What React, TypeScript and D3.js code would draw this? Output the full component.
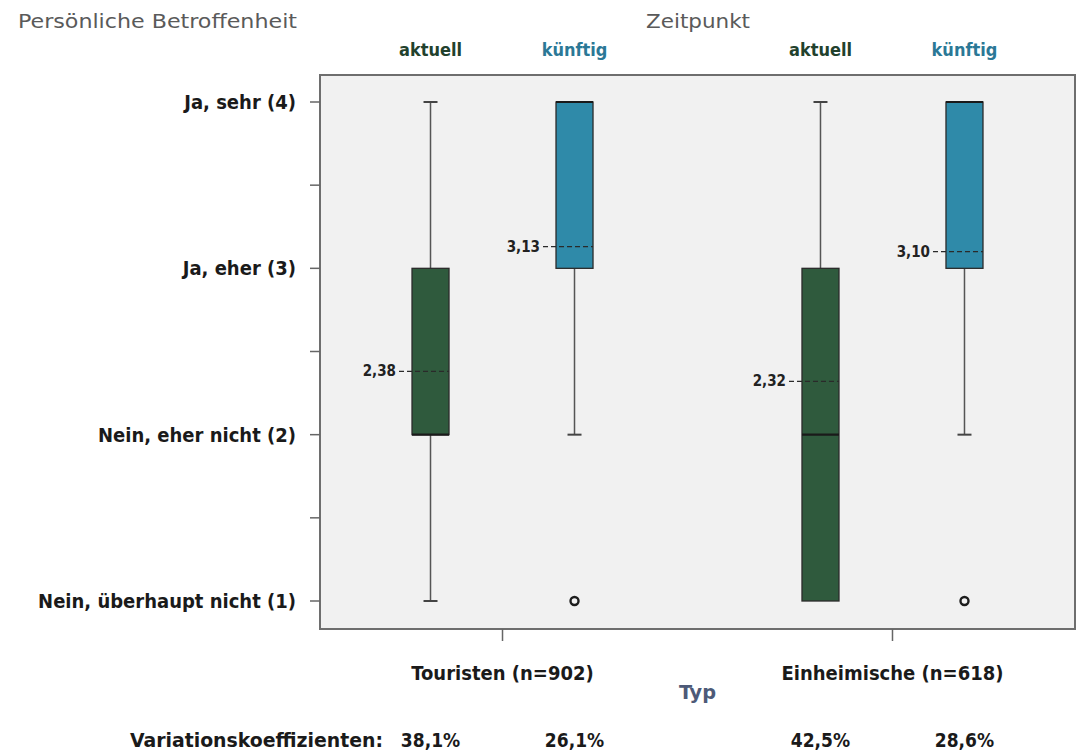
import React from 'react';
import * as d3 from 'd3';

// Gruppen (Typ) und Zeitpunkte
const groups = ['Touristen (n=902)', 'Einheimische (n=618)'];
const times = ['aktuell', 'künftig'];

// Boxplot-Kennwerte je Gruppe x Zeitpunkt (Reihenfolge: T-aktuell, T-künftig, E-aktuell, E-künftig)
const boxGroup = [0, 0, 1, 1];
const boxTime = [0, 1, 0, 1];
const whiskerLow = [1, 2, 1, 2];
const q1 = [2, 3, 1, 3];
const median = [2, 4, 2, 4];
const q3 = [3, 4, 3, 4];
const whiskerHigh = [4, 4, 4, 4];
const means = [2.38, 3.13, 2.32, 3.1];
const meanLabels = ['2,38', '3,13', '2,32', '3,10'];
const outliers = [[], [1], [], [1]];
const variation = ['38,1%', '26,1%', '42,5%', '28,6%'];

const yTicks = [1, 2, 3, 4];
const yMinor = [1.5, 2.5, 3.5];
const yLabels = ['Nein, überhaupt nicht (1)', 'Nein, eher nicht (2)', 'Ja, eher (3)', 'Ja, sehr (4)'];

const timeColors = ['#2f5a3d', '#2f8aa9'];
const timeTextColors = ['#22412d', '#2b7896'];

const FONT = "'Liberation Sans Narrow', 'DejaVu Sans Condensed', 'Open Sans', sans-serif";

export default function App() {
  const W = 1084;
  const H = 755;
  const left = 320;
  const right = 1075;
  const top = 75;
  const bottom = 629;

  const x = d3.scalePoint<string>().domain(groups).range([left, right]).padding(0.468);
  const inner = d3.scalePoint<string>().domain(times).range([-72, 72]);
  const y = d3.scaleLinear().domain([1, 4]).range([601, 102]);
  const bw = 37;

  const cx = (i: number) => (x(groups[boxGroup[i]]) as number) + (inner(times[boxTime[i]]) as number);

  return (
    <svg width={W} height={H} style={{ position: 'absolute', left: 0, top: 0, background: '#fff' }} fontFamily={FONT}>
      {/* Achsentitel oben */}
      <text x={18} y={28} fontSize={20} fill="#5a5a5a" textLength={279} lengthAdjust="spacingAndGlyphs">Persönliche Betroffenheit</text>
      <text x={646} y={28} fontSize={20} fill="#5a5a5a" textLength={104} lengthAdjust="spacingAndGlyphs">Zeitpunkt</text>
      {boxTime.map((t, i) => (
        <text key={'t' + i} x={cx(i)} y={56} fontSize={18} fontWeight="bold" textAnchor="middle" fill={timeTextColors[t]}>
          {times[t]}
        </text>
      ))}

      {/* Plotfläche */}
      <rect x={left} y={top} width={right - left} height={bottom - top} fill="#f1f1f1" stroke="#6e6e6e" strokeWidth={2} />

      {/* y-Achse */}
      {yTicks.map((v, i) => (
        <g key={'y' + v}>
          <line x1={left - 10} x2={left} y1={y(v)} y2={y(v)} stroke="#666" strokeWidth={1.5} />
          <text x={left - 24} y={y(v) + 7} fontSize={20} fontWeight="bold" textAnchor="end" fill="#1a1a1a">
            {yLabels[i]}
          </text>
        </g>
      ))}
      {yMinor.map((v) => (
        <line key={'m' + v} x1={left - 10} x2={left} y1={y(v)} y2={y(v)} stroke="#666" strokeWidth={1.5} />
      ))}

      {/* x-Achse */}
      {groups.map((g) => (
        <g key={g}>
          <line x1={x(g)} x2={x(g)} y1={bottom} y2={bottom + 12} stroke="#666" strokeWidth={1.5} />
          <text x={x(g)} y={680} fontSize={20} fontWeight="bold" textAnchor="middle" fill="#1a1a1a">{g}</text>
        </g>
      ))}
      <text x={679} y={699} fontSize={20} fontWeight="bold" fill="#4d5a78" textLength={37} lengthAdjust="spacingAndGlyphs">Typ</text>

      {/* Boxplots */}
      {boxTime.map((t, i) => {
        const c = cx(i);
        return (
          <g key={'b' + i}>
            <line x1={c} x2={c} y1={y(whiskerLow[i])} y2={y(whiskerHigh[i])} stroke="#555" strokeWidth={1.5} />
            {whiskerLow[i] < q1[i] && (
              <line x1={c - 7} x2={c + 7} y1={y(whiskerLow[i])} y2={y(whiskerLow[i])} stroke="#444" strokeWidth={2} />
            )}
            {whiskerHigh[i] > q3[i] && (
              <line x1={c - 7} x2={c + 7} y1={y(whiskerHigh[i])} y2={y(whiskerHigh[i])} stroke="#444" strokeWidth={2} />
            )}
            <rect x={c - bw / 2} y={y(q3[i])} width={bw} height={y(q1[i]) - y(q3[i])} fill={timeColors[t]} stroke="#2b2b2b" strokeWidth={1.3} />
            <line x1={c - bw / 2} x2={c + bw / 2} y1={y(median[i])} y2={y(median[i])} stroke="#1a1a1a" strokeWidth={2.2} />
            <line x1={c - bw / 2 - 13} x2={c + bw / 2} y1={y(means[i])} y2={y(means[i])} stroke="#2a2a2a" strokeWidth={1.3} strokeDasharray="5,3" />
            <text x={c - bw / 2 - 16} y={y(means[i]) + 5} fontSize={15} fontWeight="bold" textAnchor="end" fill="#222">
              {meanLabels[i]}
            </text>
            {outliers[i].map((o, k) => (
              <circle key={k} cx={c} cy={y(o)} r={4} fill="#f4f4f4" stroke="#1e1e1e" strokeWidth={2.4} />
            ))}
          </g>
        );
      })}

      {/* Variationskoeffizienten */}
      <text x={130} y={747} fontSize={19} fontWeight="bold" fill="#1a1a1a" textLength={253} lengthAdjust="spacingAndGlyphs">Variationskoeffizienten:</text>
      {variation.map((v, i) => (
        <text key={'v' + i} x={cx(i)} y={747} fontSize={19} fontWeight="bold" textAnchor="middle" fill="#1a1a1a">{v}</text>
      ))}
    </svg>
  );
}
